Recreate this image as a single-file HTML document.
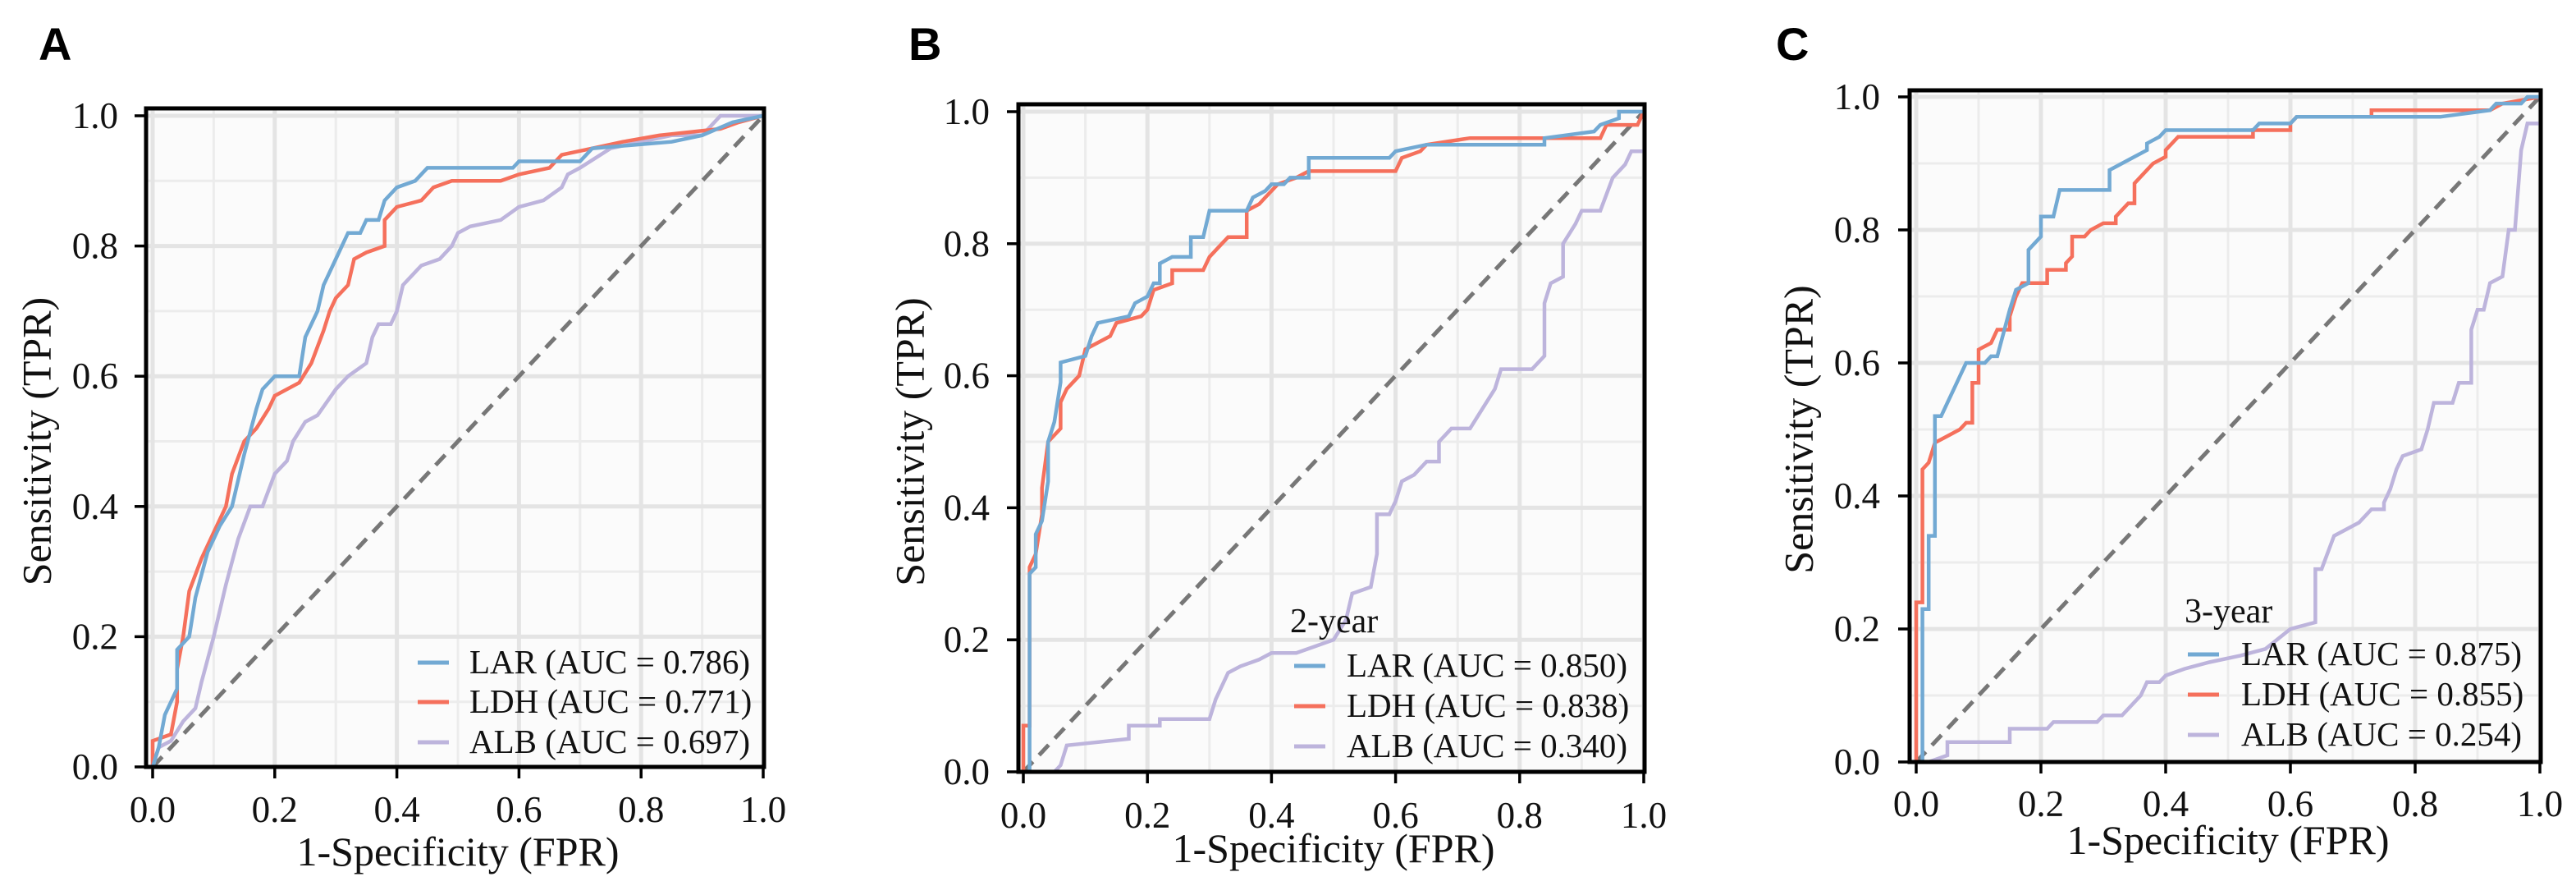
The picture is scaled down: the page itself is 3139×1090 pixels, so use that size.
<!DOCTYPE html>
<html><head><meta charset="utf-8">
<style>
html,body{margin:0;padding:0;background:#fff;}
svg{display:block;font-family:"Liberation Serif",serif;}
.pl{font-family:"Liberation Sans",sans-serif;font-weight:bold;}
</style></head>
<body>
<svg id="chart" width="3139" height="1090" viewBox="0 0 3139 1090" xmlns="http://www.w3.org/2000/svg"></svg>
<script>
const tickValues = [0, 0.2, 0.4, 0.6, 0.8, 1.0];
const tickLabels = ["0.0","0.2","0.4","0.6","0.8","1.0"];
const seriesNames = ["LAR","LDH","ALB"];
const panelLetters = ["A","B","C"];
const legendTitles = ["", "2-year", "3-year"];
const aucA = ["0.786","0.771","0.697"];
const aucB = ["0.850","0.838","0.340"];
const aucC = ["0.875","0.855","0.254"];
const larA = [[0,0],[0.01,0.03],[0.02,0.08],[0.04,0.12],[0.04,0.18],[0.06,0.2],[0.07,0.26],[0.09,0.33],[0.11,0.37],[0.13,0.4],[0.15,0.48],[0.17,0.55],[0.18,0.58],[0.2,0.6],[0.24,0.6],[0.25,0.66],[0.27,0.7],[0.28,0.74],[0.3,0.78],[0.32,0.82],[0.34,0.82],[0.35,0.84],[0.37,0.84],[0.38,0.87],[0.4,0.89],[0.43,0.9],[0.45,0.92],[0.59,0.92],[0.6,0.93],[0.7,0.93],[0.72,0.95],[0.85,0.96],[0.9,0.97],[0.95,0.99],[1,1]];
const ldhA = [[0,0],[0,0.04],[0.03,0.05],[0.04,0.1],[0.04,0.15],[0.05,0.2],[0.06,0.27],[0.08,0.32],[0.1,0.36],[0.12,0.4],[0.13,0.45],[0.15,0.5],[0.17,0.52],[0.19,0.55],[0.2,0.57],[0.24,0.59],[0.26,0.62],[0.28,0.67],[0.29,0.7],[0.3,0.72],[0.32,0.74],[0.33,0.78],[0.35,0.79],[0.38,0.8],[0.38,0.84],[0.4,0.86],[0.44,0.87],[0.46,0.89],[0.49,0.9],[0.57,0.9],[0.6,0.91],[0.65,0.92],[0.67,0.94],[0.72,0.95],[0.77,0.96],[0.83,0.97],[0.93,0.98],[0.96,0.99],[1,1]];
const albA = [[0,0],[0.01,0.03],[0.03,0.04],[0.05,0.07],[0.07,0.09],[0.08,0.13],[0.1,0.2],[0.12,0.28],[0.14,0.35],[0.16,0.4],[0.18,0.4],[0.2,0.45],[0.22,0.47],[0.23,0.5],[0.25,0.53],[0.27,0.54],[0.3,0.58],[0.32,0.6],[0.35,0.62],[0.36,0.66],[0.37,0.68],[0.39,0.68],[0.4,0.7],[0.41,0.74],[0.44,0.77],[0.47,0.78],[0.49,0.8],[0.5,0.82],[0.52,0.83],[0.57,0.84],[0.6,0.86],[0.64,0.87],[0.67,0.89],[0.68,0.91],[0.7,0.92],[0.75,0.95],[0.8,0.96],[0.85,0.97],[0.9,0.97],[0.92,0.99],[0.93,1],[1,1]];
const larB = [[0.01,0],[0.01,0.3],[0.02,0.31],[0.02,0.36],[0.03,0.38],[0.04,0.44],[0.04,0.5],[0.05,0.53],[0.06,0.59],[0.06,0.62],[0.1,0.63],[0.11,0.66],[0.12,0.68],[0.17,0.69],[0.18,0.71],[0.2,0.72],[0.21,0.74],[0.22,0.74],[0.22,0.77],[0.24,0.78],[0.27,0.78],[0.27,0.81],[0.29,0.81],[0.3,0.85],[0.36,0.85],[0.37,0.87],[0.39,0.88],[0.4,0.89],[0.42,0.89],[0.43,0.9],[0.46,0.9],[0.46,0.93],[0.59,0.93],[0.6,0.94],[0.65,0.95],[0.84,0.95],[0.84,0.96],[0.92,0.97],[0.93,0.98],[0.96,0.99],[0.96,1],[1,1]];
const ldhB = [[0,0],[0,0.07],[0.01,0.07],[0.01,0.31],[0.02,0.33],[0.03,0.39],[0.03,0.43],[0.04,0.5],[0.06,0.52],[0.06,0.56],[0.07,0.58],[0.09,0.6],[0.1,0.64],[0.12,0.65],[0.14,0.66],[0.15,0.68],[0.19,0.69],[0.2,0.7],[0.21,0.73],[0.24,0.74],[0.24,0.76],[0.29,0.76],[0.3,0.78],[0.32,0.8],[0.33,0.81],[0.36,0.81],[0.36,0.85],[0.38,0.86],[0.39,0.87],[0.4,0.88],[0.41,0.89],[0.44,0.9],[0.46,0.91],[0.6,0.91],[0.61,0.93],[0.64,0.94],[0.65,0.95],[0.72,0.96],[0.93,0.96],[0.94,0.98],[0.99,0.98],[1,1]];
const albB = [[0.05,0],[0.06,0.01],[0.07,0.04],[0.17,0.05],[0.17,0.07],[0.22,0.07],[0.22,0.08],[0.3,0.08],[0.31,0.11],[0.33,0.15],[0.35,0.16],[0.38,0.17],[0.4,0.18],[0.44,0.18],[0.47,0.19],[0.5,0.2],[0.52,0.23],[0.53,0.27],[0.56,0.28],[0.57,0.33],[0.57,0.39],[0.59,0.39],[0.6,0.41],[0.61,0.44],[0.63,0.45],[0.65,0.47],[0.67,0.47],[0.67,0.5],[0.69,0.52],[0.72,0.52],[0.74,0.55],[0.76,0.58],[0.77,0.61],[0.82,0.61],[0.84,0.63],[0.84,0.71],[0.85,0.74],[0.87,0.75],[0.87,0.8],[0.89,0.83],[0.9,0.85],[0.93,0.85],[0.95,0.9],[0.97,0.92],[0.98,0.94],[1,0.94]];
const larC = [[0.01,0],[0.01,0.23],[0.02,0.23],[0.02,0.34],[0.03,0.34],[0.03,0.52],[0.04,0.52],[0.05,0.54],[0.06,0.56],[0.07,0.58],[0.08,0.6],[0.11,0.6],[0.12,0.61],[0.13,0.61],[0.15,0.68],[0.16,0.71],[0.18,0.72],[0.18,0.77],[0.2,0.79],[0.2,0.82],[0.22,0.82],[0.23,0.86],[0.31,0.86],[0.31,0.89],[0.33,0.9],[0.35,0.91],[0.37,0.92],[0.37,0.93],[0.39,0.94],[0.4,0.95],[0.54,0.95],[0.55,0.96],[0.6,0.96],[0.61,0.97],[0.84,0.97],[0.92,0.98],[0.93,0.99],[0.97,0.99],[0.98,1],[1,1]];
const ldhC = [[0,0],[0,0.24],[0.01,0.24],[0.01,0.44],[0.02,0.45],[0.03,0.48],[0.05,0.49],[0.07,0.5],[0.08,0.51],[0.09,0.51],[0.09,0.57],[0.1,0.57],[0.1,0.62],[0.12,0.63],[0.13,0.65],[0.15,0.65],[0.15,0.67],[0.16,0.7],[0.17,0.72],[0.21,0.72],[0.21,0.74],[0.24,0.74],[0.24,0.75],[0.25,0.76],[0.25,0.79],[0.27,0.79],[0.28,0.8],[0.3,0.81],[0.32,0.81],[0.32,0.82],[0.33,0.83],[0.34,0.84],[0.35,0.84],[0.35,0.87],[0.37,0.89],[0.38,0.9],[0.4,0.91],[0.4,0.92],[0.42,0.94],[0.54,0.94],[0.54,0.95],[0.6,0.95],[0.6,0.96],[0.61,0.97],[0.73,0.97],[0.73,0.98],[0.92,0.98],[0.94,0.99],[1,1]];
const albC = [[0,0],[0.02,0],[0.05,0.01],[0.05,0.03],[0.15,0.03],[0.15,0.05],[0.21,0.05],[0.22,0.06],[0.29,0.06],[0.3,0.07],[0.33,0.07],[0.34,0.08],[0.36,0.1],[0.37,0.12],[0.39,0.12],[0.4,0.13],[0.43,0.14],[0.47,0.15],[0.52,0.16],[0.56,0.17],[0.6,0.2],[0.64,0.21],[0.64,0.29],[0.65,0.29],[0.67,0.34],[0.71,0.36],[0.73,0.38],[0.75,0.38],[0.75,0.39],[0.76,0.41],[0.77,0.44],[0.78,0.46],[0.81,0.47],[0.82,0.5],[0.83,0.54],[0.86,0.54],[0.87,0.57],[0.89,0.57],[0.89,0.65],[0.9,0.68],[0.91,0.68],[0.92,0.72],[0.94,0.73],[0.95,0.8],[0.96,0.8],[0.97,0.92],[0.98,0.96],[1,0.96]];

const panelData = [[larA,ldhA,albA],[larB,ldhB,albB],[larC,ldhC,albC]];
const panelAuc = [aucA,aucB,aucC];
const colors = ["#72a9d3","#f5705c","#bdb4dc"];

const layouts = [
 {fl:178,fr:931,ft:132,fb:934,x0:186,x1:930,y1:141,y0:934,letter:[47,73],ytr:144,xtb:1001,ytx:50,xtitle:1054,leg:{tx:0,ty:0,lx:509,tx2:572,rows:[820,868,917]}},
 {fl:1241,fr:2004,ft:127,fb:940,x0:1247,x1:2003,y1:136,y0:940,letter:[1107,73],ytr:1206,xtb:1008,ytx:1114,xtitle:1050,leg:{tx:1572,ty:770,lx:1577,tx2:1641,rows:[824,873,922]}},
 {fl:2327,fr:3096,ft:110,fb:928,x0:2335,x1:3095,y1:118,y0:928,letter:[2164,73],ytr:2291,xtb:994,ytx:2197,xtitle:1040,leg:{tx:2662,ty:758,lx:2666,tx2:2731,rows:[810,859,908]}}
];

const NS = "http://www.w3.org/2000/svg";
const svg = document.getElementById("chart");
function mk(tag, attrs, parent){
  const e = document.createElementNS(NS, tag);
  for (const k in attrs) e.setAttribute(k, attrs[k]);
  (parent||svg).appendChild(e);
  return e;
}

layouts.forEach((L, p) => {
  const g = mk("g", {});
  
  
  const sx = v => L.x0 + v * (L.x1 - L.x0);
  const sy = v => L.y0 - v * (L.y0 - L.y1);

  const lt = mk("text", {x:L.letter[0], y:L.letter[1], "font-size":56, class:"pl"}, g);
  lt.textContent = panelLetters[p];
  
  

  const bg = mk("rect", {x:L.fl, y:L.ft, width:L.fr-L.fl, height:L.fb-L.ft, fill:"#fbfbfb"}, g);
  
  

  for (let i = 1; i < 10; i += 2) {
    const v = i / 10;
    mk("line", {x1:sx(v), x2:sx(v), y1:L.ft, y2:L.fb, stroke:"#ececec", "stroke-width":3}, g);
    mk("line", {x1:L.fl, x2:L.fr, y1:sy(v), y2:sy(v), stroke:"#ececec", "stroke-width":3}, g);
  }
  tickValues.forEach((v, i) => {
    const gx = mk("line", {x1:sx(v), x2:sx(v), y1:L.ft, y2:L.fb, stroke:"#e4e4e4", "stroke-width":5}, g);
    
    
    const gy = mk("line", {x1:L.fl, x2:L.fr, y1:sy(v), y2:sy(v), stroke:"#e4e4e4", "stroke-width":5}, g);
    
    
    mk("line", {x1:sx(v), x2:sx(v), y1:L.fb, y2:L.fb+14, stroke:"#000", "stroke-width":3.5}, g);
    mk("line", {x1:L.fl-14, x2:L.fl, y1:sy(v), y2:sy(v), stroke:"#000", "stroke-width":3.5}, g);
    const xt = mk("text", {x:sx(v), y:L.xtb, "font-size":45, "text-anchor":"middle", fill:"#111"}, g);
    xt.textContent = tickLabels[i];
    
    
    const yt = mk("text", {x:L.ytr, y:sy(v)+15, "font-size":45, "text-anchor":"end", fill:"#111"}, g);
    yt.textContent = tickLabels[i];
    
    
  });

  const dg = mk("line", {x1:sx(0), y1:sy(0), x2:sx(1), y2:sy(1), stroke:"#777", "stroke-width":5, "stroke-dasharray":"17 11"}, g);
  
  

  [2,1,0].forEach(s => {
    const pts = panelData[p][s].map(d => sx(d[0]).toFixed(1) + "," + sy(d[1]).toFixed(1)).join(" ");
    const pl = mk("polyline", {points:pts, fill:"none", stroke:colors[s], "stroke-width":4.5, "stroke-linejoin":"miter"}, g);
    
    
  });

  const fr = mk("rect", {x:L.fl, y:L.ft, width:L.fr-L.fl, height:L.fb-L.ft, fill:"none", stroke:"#000", "stroke-width":5}, g);
  
  

  const xa = mk("text", {x:(L.x0+L.x1)/2, y:L.xtitle, "font-size":50, "text-anchor":"middle", fill:"#111"}, g);
  xa.textContent = "1-Specificity (FPR)";
  
  
  const cy = (L.y0 + L.y1) / 2;
  const ya = mk("text", {x:L.ytx, y:cy, "font-size":50, "text-anchor":"middle", fill:"#111", transform:"rotate(-90 "+L.ytx+" "+cy+")", "dominant-baseline":"middle"}, g);
  ya.textContent = "Sensitivity (TPR)";
  
  

  if (legendTitles[p]) {
    const lt2 = mk("text", {x:L.leg.tx, y:L.leg.ty, "font-size":42, fill:"#111"}, g);
    lt2.textContent = legendTitles[p];
    
    
  }
  seriesNames.forEach((n, s) => {
    const ry = L.leg.rows[s];
    const eg = mk("g", {}, g);
    
    
    mk("line", {x1:L.leg.lx, x2:L.leg.lx+38, y1:ry-13, y2:ry-13, stroke:colors[s], "stroke-width":5}, eg);
    const t = mk("text", {x:L.leg.tx2, y:ry, "font-size":41, fill:"#111"}, eg);
    t.textContent = n + " (AUC = " + panelAuc[p][s] + ")";
  });
});
</script>
</body></html>
